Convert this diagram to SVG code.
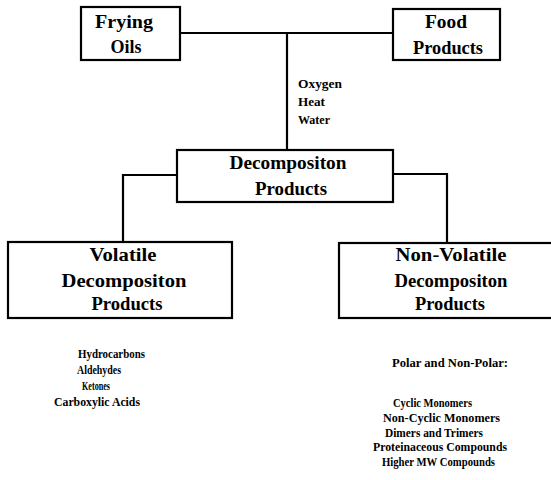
<svg xmlns="http://www.w3.org/2000/svg" width="551" height="480" viewBox="0 0 551 480">
<style>
.box{fill:#fff;stroke:#000;stroke-width:2.2}
.ln{fill:none;stroke:#000;stroke-width:2.2}
.t{font-family:"Liberation Serif",serif;font-weight:bold;font-size:18px;fill:#000;text-anchor:middle}
.s{font-family:"Liberation Serif",serif;font-weight:bold;font-size:11.5px;fill:#000}
</style>
<rect width="551" height="480" fill="#fff"/>
<g id="connectors">
<path class="ln" d="M180 33 H393"/>
<path class="ln" d="M287 33 V150"/>
<path class="ln" d="M177 175 H123 V242"/>
<path class="ln" d="M393 174 H447 V243"/>
</g>
<g id="conditions">
<text class="s" x="298" y="88" textLength="44" lengthAdjust="spacingAndGlyphs">Oxygen</text>
<text class="s" x="298" y="106" textLength="27" lengthAdjust="spacingAndGlyphs">Heat</text>
<text class="s" x="298" y="124" textLength="32" lengthAdjust="spacingAndGlyphs">Water</text>
</g>
<g id="frying-oils">
<rect class="box" x="81" y="7" width="99" height="53"/>
<text class="t" x="124" y="28" textLength="58" lengthAdjust="spacingAndGlyphs">Frying</text>
<text class="t" x="126" y="53">Oils</text>
</g>
<g id="food-products">
<rect class="box" x="393" y="9" width="107" height="51"/>
<text class="t" x="446" y="28" textLength="42" lengthAdjust="spacingAndGlyphs">Food</text>
<text class="t" x="448" y="54" textLength="70" lengthAdjust="spacingAndGlyphs">Products</text>
</g>
<g id="decomposition-products">
<rect class="box" x="177" y="150" width="216" height="52"/>
<text class="t" x="288" y="169" textLength="117" lengthAdjust="spacingAndGlyphs">Decompositon</text>
<text class="t" x="291" y="195" textLength="72" lengthAdjust="spacingAndGlyphs">Products</text>
</g>
<g id="volatile">
<rect class="box" x="8" y="242" width="224" height="76"/>
<text class="t" x="123" y="261" textLength="67" lengthAdjust="spacingAndGlyphs">Volatile</text>
<text class="t" x="124" y="287" textLength="125" lengthAdjust="spacingAndGlyphs">Decompositon</text>
<text class="t" x="127" y="310" textLength="71" lengthAdjust="spacingAndGlyphs">Products</text>
</g>
<g id="non-volatile">
<rect class="box" x="339" y="243" width="225" height="75"/>
<text class="t" x="451" y="261" textLength="111" lengthAdjust="spacingAndGlyphs">Non-Volatile</text>
<text class="t" x="451" y="287" textLength="113" lengthAdjust="spacingAndGlyphs">Decompositon</text>
<text class="t" x="450" y="310" textLength="70" lengthAdjust="spacingAndGlyphs">Products</text>
</g>
<g id="volatile-list">
<text class="s" x="78" y="358" textLength="67" lengthAdjust="spacingAndGlyphs">Hydrocarbons</text>
<text class="s" x="77" y="374" textLength="44" lengthAdjust="spacingAndGlyphs">Aldehydes</text>
<text class="s" x="82" y="390" textLength="28" lengthAdjust="spacingAndGlyphs">Ketones</text>
<text class="s" x="54" y="406" textLength="86" lengthAdjust="spacingAndGlyphs">Carboxylic Acids</text>
</g>
<g id="non-volatile-list">
<text class="s" x="392" y="367" textLength="116" lengthAdjust="spacingAndGlyphs">Polar and Non-Polar:</text>
<text class="s" x="393" y="407" textLength="79" lengthAdjust="spacingAndGlyphs">Cyclic Monomers</text>
<text class="s" x="383" y="422" textLength="117" lengthAdjust="spacingAndGlyphs">Non-Cyclic Monomers</text>
<text class="s" x="385" y="437" textLength="98" lengthAdjust="spacingAndGlyphs">Dimers and Trimers</text>
<text class="s" x="373" y="451" textLength="134" lengthAdjust="spacingAndGlyphs">Proteinaceous Compounds</text>
<text class="s" x="382" y="466" textLength="113" lengthAdjust="spacingAndGlyphs">Higher MW Compounds</text>
</g>
</svg>
